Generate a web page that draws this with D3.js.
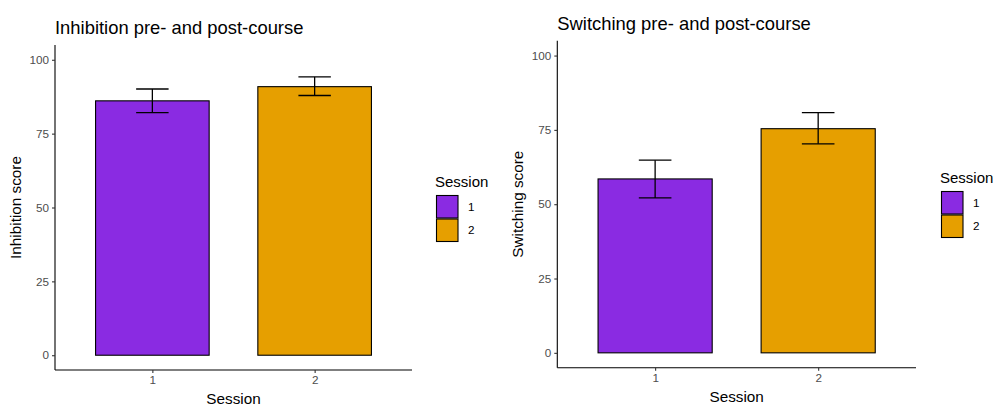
<!DOCTYPE html>
<html>
<head>
<meta charset="utf-8">
<script src="https://cdn.jsdelivr.net/npm/d3@7"></script>
<style>
  html, body { margin: 0; padding: 0; background: #fff; }
  svg { display: block; font-family: "Liberation Sans", Arial, sans-serif; }
</style>
</head>
<body>
<svg id="chart" width="993" height="405"></svg>
<script>
// ---- data ----
const sessions = ["1", "2"];
const sessionColors = ["#8A2BE2", "#E69F00"];
const yTickValues = [0, 25, 50, 75, 100];

const inhibitionMean  = [86.1, 90.9];
const inhibitionLower = [82.1, 87.9];
const inhibitionUpper = [90.1, 94.2];

const switchingMean  = [58.5, 75.4];
const switchingLower = [52.1, 70.3];
const switchingUpper = [64.8, 80.8];

// ---- layout ----
const svg = d3.select("#chart");
const color = d3.scaleOrdinal().domain(sessions).range(sessionColors);
const FONT = "'Liberation Sans', Arial, sans-serif";

function drawPanel(cfg) {
  const g = svg.append("g");
  const x = d3.scaleLinear().domain([0.4, sessions.length + 0.6]).range([cfg.left, cfg.right]);
  const y = d3.scaleLinear().domain([-5, 105]).range([cfg.bottom, cfg.top]);
  const barW = 0.7, whW = 0.2;

  const rows = sessions.map((s, i) => ({ s, i, m: cfg.mean[i], lo: cfg.lower[i], hi: cfg.upper[i] }));

  g.selectAll("rect.bar").data(rows).enter().append("rect")
    .attr("class", "bar")
    .attr("x", d => x(d.i + 1 - barW / 2))
    .attr("width", d => x(d.i + 1 + barW / 2) - x(d.i + 1 - barW / 2))
    .attr("y", d => y(d.m))
    .attr("height", d => y(0) - y(d.m))
    .attr("fill", d => color(d.s))
    .attr("stroke", "#000")
    .attr("stroke-width", 1.1);

  const eb = g.selectAll("g.eb").data(rows).enter().append("g").attr("class", "eb")
    .attr("stroke", "#000").attr("stroke-width", 1.3).attr("fill", "none");
  eb.append("line")
    .attr("x1", d => x(d.i + 1)).attr("x2", d => x(d.i + 1))
    .attr("y1", d => y(d.lo)).attr("y2", d => y(d.hi));
  eb.append("line")
    .attr("x1", d => x(d.i + 1 - whW / 2)).attr("x2", d => x(d.i + 1 + whW / 2))
    .attr("y1", d => y(d.hi)).attr("y2", d => y(d.hi));
  eb.append("line")
    .attr("x1", d => x(d.i + 1 - whW / 2)).attr("x2", d => x(d.i + 1 + whW / 2))
    .attr("y1", d => y(d.lo)).attr("y2", d => y(d.lo));

  const yAxis = g.append("g").attr("transform", `translate(${cfg.left},0)`)
    .call(d3.axisLeft(y).tickValues(yTickValues).tickSize(3).tickPadding(3).tickSizeOuter(0));
  yAxis.select(".domain").attr("stroke", "#000").attr("stroke-width", 1.1)
    .attr("d", `M0,${cfg.bottom}V${cfg.top}`);
  yAxis.selectAll(".tick line").attr("stroke", "#333").attr("stroke-width", 1.1);
  yAxis.selectAll(".tick text").attr("fill", "#4d4d4d").style("font-size", "11.7px")
    .style("font-family", FONT);

  const xAxis = g.append("g").attr("transform", `translate(0,${cfg.bottom})`)
    .call(d3.axisBottom(x).tickValues(sessions.map((s, i) => i + 1))
      .tickFormat((d, i) => sessions[i]).tickSize(3).tickPadding(3).tickSizeOuter(0));
  xAxis.select(".domain").attr("stroke", "#000").attr("stroke-width", 1.1)
    .attr("d", `M${cfg.left},0H${cfg.right}`);
  xAxis.selectAll(".tick line").attr("stroke", "#333").attr("stroke-width", 1.1);
  xAxis.selectAll(".tick text").attr("fill", "#4d4d4d").style("font-size", "11.7px")
    .style("font-family", FONT);

  g.append("text").attr("x", cfg.left).attr("y", cfg.titleY)
    .attr("fill", "#000").style("font-size", "18.4px").text(cfg.title);
  g.append("text").attr("x", (cfg.left + cfg.right) / 2).attr("y", cfg.xTitleY)
    .attr("text-anchor", "middle").attr("fill", "#000").style("font-size", "15.3px").text("Session");
  g.append("text")
    .attr("transform", `translate(${cfg.yTitleX},${(cfg.top + cfg.bottom) / 2}) rotate(-90)`)
    .attr("text-anchor", "middle").attr("fill", "#000").style("font-size", "15.3px").text(cfg.yTitle);

  const lg = g.append("g");
  lg.append("text").attr("x", cfg.legX).attr("y", cfg.legY)
    .attr("fill", "#000").style("font-size", "15px").text("Session");
  const keyH = 23.5, keyW = 22.5;
  const items = lg.selectAll("g.item").data(sessions).enter().append("g")
    .attr("transform", (d, i) => `translate(${cfg.legX + 1},${cfg.legY + 8 + i * keyH})`);
  items.append("rect").attr("x", 0.5).attr("y", 0.5).attr("width", keyW - 1).attr("height", keyH - 1)
    .attr("fill", d => color(d)).attr("stroke", "#000").attr("stroke-width", 1.1);
  items.append("text").attr("x", keyW + 9.5).attr("y", keyH / 2 + 4.2)
    .attr("fill", "#000").style("font-size", "11.7px").text(d => d);
}

drawPanel({
  left: 55, right: 412, top: 45, bottom: 370,
  mean: inhibitionMean, lower: inhibitionLower, upper: inhibitionUpper,
  title: "Inhibition pre- and post-course", titleY: 33.5,
  yTitle: "Inhibition score", yTitleX: 20.5, xTitleY: 403.5,
  legX: 435, legY: 187
});

drawPanel({
  left: 557.3, right: 916, top: 40.7, bottom: 367.7,
  mean: switchingMean, lower: switchingLower, upper: switchingUpper,
  title: "Switching pre- and post-course", titleY: 29.5,
  yTitle: "Switching score", yTitleX: 522.5, xTitleY: 401.5,
  legX: 940, legY: 183
});
</script>
</body>
</html>
